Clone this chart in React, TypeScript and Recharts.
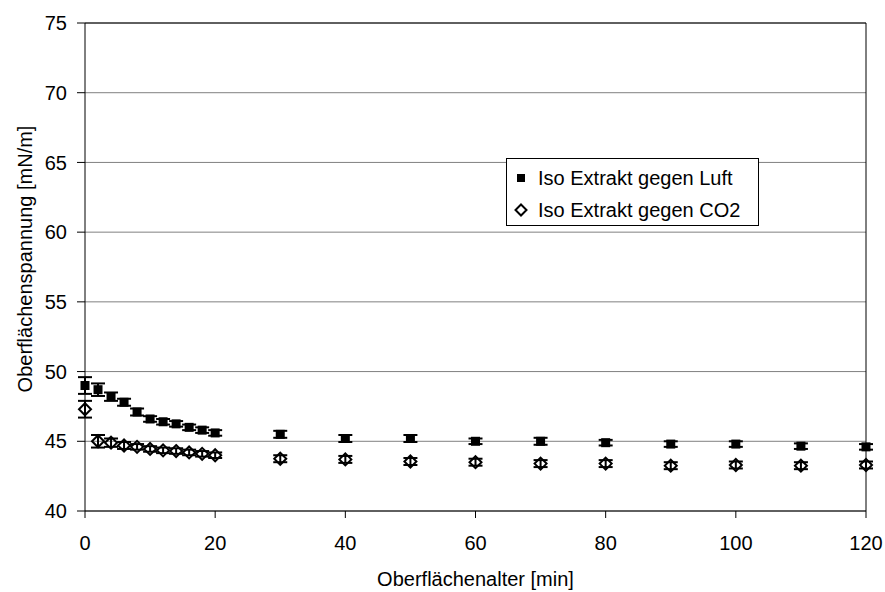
import React from "react";
import {
  ScatterChart,
  Scatter,
  XAxis,
  YAxis,
  CartesianGrid,
  ErrorBar,
  Legend,
  ReferenceLine,
} from "recharts";

const minutes = [0, 2, 4, 6, 8, 10, 12, 14, 16, 18, 20, 30, 40, 50, 60, 70, 80, 90, 100, 110, 120];
const luft = [49.0, 48.7, 48.2, 47.8, 47.1, 46.6, 46.4, 46.25, 46.0, 45.8, 45.6, 45.5, 45.2, 45.2, 45.0, 45.0, 44.9, 44.8, 44.8, 44.65, 44.6];
const luftErr = [0.6, 0.45, 0.3, 0.25, 0.25, 0.2, 0.2, 0.2, 0.2, 0.2, 0.2, 0.25, 0.25, 0.25, 0.2, 0.25, 0.2, 0.2, 0.2, 0.2, 0.2];
const co2 = [47.3, 45.0, 44.9, 44.7, 44.6, 44.45, 44.35, 44.3, 44.2, 44.1, 44.0, 43.75, 43.7, 43.55, 43.5, 43.4, 43.4, 43.25, 43.3, 43.25, 43.3];
const co2Err = [0.6, 0.45, 0.3, 0.25, 0.2, 0.2, 0.2, 0.2, 0.2, 0.2, 0.2, 0.25, 0.25, 0.25, 0.25, 0.25, 0.25, 0.25, 0.25, 0.25, 0.25];

const xTicks = [0, 20, 40, 60, 80, 100, 120];
const yTicks = [40, 45, 50, 55, 60, 65, 70, 75];

const seriesNames = ["Iso Extrakt gegen Luft", "Iso Extrakt gegen CO2"];

const luftData = minutes.map((x, i) => ({ x, y: luft[i], err: luftErr[i] }));
const co2Data = minutes.map((x, i) => ({ x, y: co2[i], err: co2Err[i] }));

const FONT = '"Liberation Sans", Arial, sans-serif';

const SquareShape = (props: any) => {
  const { cx, cy } = props;
  if (cx == null || cy == null) return null;
  return <rect x={cx - 4.5} y={cy - 4.5} width={9} height={9} fill="#000" />;
};

const DiamondShape = (props: any) => {
  const { cx, cy } = props;
  if (cx == null || cy == null) return null;
  const r = 6;
  return (
    <polygon
      points={`${cx},${cy - r} ${cx + r},${cy} ${cx},${cy + r} ${cx - r},${cy}`}
      fill="none"
      stroke="#000"
      strokeWidth={2}
    />
  );
};

const LegendBox = () => (
  <div
    style={{
      position: "absolute",
      left: 0,
      top: 0,
      boxSizing: "border-box",
      width: 253,
      height: 68,
      border: "1px solid #000",
      background: "#fff",
      fontFamily: FONT,
      fontSize: 20,
      color: "#000",
      paddingLeft: 7,
      paddingTop: 3,
      textAlign: "left",
    }}
  >
    <div style={{ display: "flex", alignItems: "center", height: 32 }}>
      <svg width={14} height={14} style={{ marginRight: 10 }}>
        <rect x={3} y={3} width={8} height={8} fill="#000" />
      </svg>
      <span>{seriesNames[0]}</span>
    </div>
    <div style={{ display: "flex", alignItems: "center", height: 32 }}>
      <svg width={14} height={14} style={{ marginRight: 10 }}>
        <polygon points="7,1.5 12.5,7 7,12.5 1.5,7" fill="#fff" stroke="#000" strokeWidth={2} />
      </svg>
      <span>{seriesNames[1]}</span>
    </div>
  </div>
);

const YLabel = (props: any) => {
  const vb = props.viewBox || { x: 0, y: 23, width: 85, height: 488 };
  const cx = vb.x + 25;
  const cy = vb.y + vb.height / 2 - 8;
  return (
    <text
      x={cx}
      y={cy}
      transform={`rotate(-90 ${cx} ${cy})`}
      textAnchor="middle"
      dominantBaseline="central"
      fontFamily={FONT}
      fontSize={20}
      fill="#000"
    >
      Oberflächenspannung [mN/m]
    </text>
  );
};

const XLabel = (props: any) => {
  const vb = props.viewBox || { x: 85, y: 511, width: 781, height: 81 };
  return (
    <text
      x={vb.x + vb.width / 2}
      y={vb.y + 75}
      textAnchor="middle"
      fontFamily={FONT}
      fontSize={20}
      fill="#000"
    >
      Oberflächenalter [min]
    </text>
  );
};

export default function App() {
  return (
    <div style={{ position: "absolute", left: 0, top: 0, width: 885, height: 592, background: "#fff" }}>
      <ScatterChart
        width={885}
        height={592}
        margin={{ top: 23, right: 19, bottom: 0, left: 0 }}
        style={{ fontFamily: FONT }}
      >
        <CartesianGrid horizontal={true} vertical={false} stroke="#808080" />
        <XAxis
          type="number"
          dataKey="x"
          domain={[0, 120]}
          ticks={xTicks}
          height={81}
          tickSize={7}
          tickMargin={18}
          axisLine={{ stroke: "#000" }}
          tickLine={{ stroke: "#000" }}
          tick={{ fill: "#000", fontSize: 20, fontFamily: FONT }}
          label={{ content: XLabel }}
        />
        <YAxis
          type="number"
          dataKey="y"
          domain={[40, 75]}
          ticks={yTicks}
          width={85}
          tickSize={8}
          tickMargin={10}
          axisLine={{ stroke: "#000" }}
          tickLine={{ stroke: "#000" }}
          tick={{ fill: "#000", fontSize: 20, fontFamily: FONT }}
          label={{ content: YLabel }}
        />
        <ReferenceLine y={75} stroke="#000" />
        <ReferenceLine x={120} stroke="#000" />
        <Legend
          content={LegendBox}
          wrapperStyle={{ position: "absolute", left: 506, top: 158, width: 0, height: 0, overflow: "visible" }}
        />
        <Scatter name={seriesNames[0]} data={luftData} shape={SquareShape} isAnimationActive={false}>
          <ErrorBar dataKey="err" direction="y" width={7} stroke="#000" strokeWidth={2} />
        </Scatter>
        <Scatter name={seriesNames[1]} data={co2Data} shape={DiamondShape} isAnimationActive={false}>
          <ErrorBar dataKey="err" direction="y" width={7} stroke="#000" strokeWidth={2} />
        </Scatter>
      </ScatterChart>
    </div>
  );
}
